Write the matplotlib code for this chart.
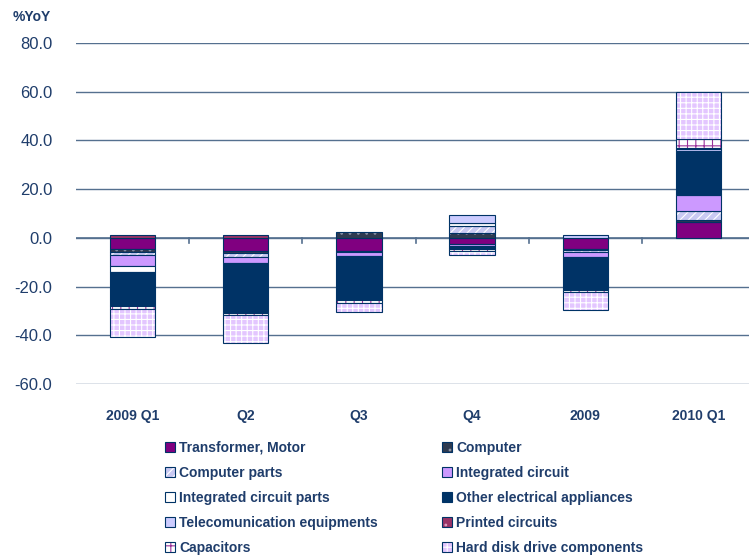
import matplotlib
matplotlib.use("Agg")
import matplotlib.pyplot as plt
from matplotlib.patches import Patch
import numpy as np

plt.rcParams['font.family'] = ['Liberation Sans', 'DejaVu Sans']
plt.rcParams['hatch.linewidth'] = 0.8

categories = ["2009 Q1", "Q2", "Q3", "Q4", "2009", "2010 Q1"]
series_names = [
    "Transformer, Motor", "Computer", "Computer parts", "Integrated circuit",
    "Integrated circuit parts", "Other electrical appliances",
    "Telecomunication equipments", "Printed circuits", "Capacitors",
    "Hard disk drive components",
]
transformer   = [-4.5, -5.6, -5.6, -2.5, -4.6, 6.4]
computer      = [-1.2, -0.7,  2.3,  2.0, -0.3, 1.1]
computer_parts= [-1.4, -1.6, -0.2,  2.7, -0.8, 3.7]
ic            = [-4.5, -2.5, -1.8, -0.7, -2.3, 6.6]
ic_parts      = [-2.5, -0.2, -0.1,  1.4, -0.3, 0.3]
other_elec    = [-13.4, -19.8, -17.6, -1.0, -12.6, 17.4]
telecom       = [-0.4, -0.3, -0.2,  3.1,  1.3, 1.1]
printed       = [ 1.3,  1.2, -0.2, -0.5, -0.4, 0.3]
capacitors    = [-1.4, -1.1, -1.1, -0.5, -1.1, 3.7]
hdd           = [-11.5, -11.2, -3.8, -2.0, -7.1, 19.3]

data = [transformer, computer, computer_parts, ic, ic_parts, other_elec,
        telecom, printed, capacitors, hdd]

faces = ["#800080", "#2E3A50", "#C9C9F2", "#CC99FF", "#FFFFFF", "#003366",
         "#CCCCFF", "#993366", "#FFFFFF", "#E3C6FF"]
hatches = [None, "..", "////", None, None, None, None, "..", "++", "+++"]
hatch_colors = [None, "#8A93A8", "#FFFFFF", None, None, None, None, "#D9A0C0",
                "#993399", "#FFFFFF"]

navy = "#1F3D6B"
grid_c = "#55708F"

fig = plt.figure(figsize=(7.49, 5.55), dpi=100)
ax = fig.add_axes([76/749, (555-384)/555, (755-76)/749, (384-43)/555])

x = np.arange(len(categories))
pos_base = np.zeros(len(categories))
neg_base = np.zeros(len(categories))
for vals, fc, h, hc in zip(data, faces, hatches, hatch_colors):
    v = np.array(vals, dtype=float)
    bottoms = np.where(v >= 0, pos_base, neg_base)
    bars = ax.bar(x, v, bottom=bottoms, width=0.4, color=fc,
                  edgecolor="#003366", linewidth=0.8, zorder=3)
    if h:
        for b in bars:
            b.set_hatch(h)
            b._hatch_color = matplotlib.colors.to_rgba(hc)
    pos_base = pos_base + np.where(v >= 0, v, 0)
    neg_base = neg_base + np.where(v < 0, v, 0)

ax.set_xlim(-0.5, 5.5)
ax.set_ylim(-60, 80)
ax.set_yticks(np.arange(-60, 81, 20))
ax.set_yticklabels([f"{t:.1f}" for t in np.arange(-60, 81, 20)],
                   fontsize=12, color=navy)
ax.yaxis.grid(True, color=grid_c, linewidth=1.0, zorder=0)
ax.set_axisbelow(True)
for s in ax.spines.values():
    s.set_visible(False)
ax.tick_params(axis='y', length=0, pad=17)
ax.set_xticks([])
# zero axis line with tick marks between categories
ax.axhline(0, color=grid_c, linewidth=1.2, zorder=2)
for b in np.arange(0.5, 5.5, 1.0):
    ax.plot([b, b], [0, -2.2], color=grid_c, linewidth=1.2, zorder=2,
            clip_on=False)
for xi, c in zip(x, categories):
    ax.text(xi, -73.2, c, ha='center', va='center', fontsize=10,
            fontweight='bold', color=navy)

fig.text(13/749, 1 - 17/555, "%YoY", ha='left', va='center', fontsize=10,
         fontweight='bold', color=navy)

# Legend (row-wise order in two columns)
handles = []
for fc, h, hc, name in zip(faces, hatches, hatch_colors, series_names):
    p = Patch(facecolor=fc, edgecolor="#003366", linewidth=0.8, label=name)
    if h:
        p.set_hatch(h)
        p._hatch_color = matplotlib.colors.to_rgba(hc)
    handles.append(p)
order = [0, 2, 4, 6, 8, 1, 3, 5, 7, 9]
hs = [handles[i] for i in order]
fig.legend(handles=hs, labels=[series_names[i] for i in order], ncol=2,
           loc='upper left', bbox_to_anchor=(159/749, 1 - 435/555),
           frameon=False, prop={'weight': 'bold', 'size': 10},
           handlelength=0.75, handleheight=0.75, handletextpad=0.3,
           labelspacing=0.8, columnspacing=4.6, labelcolor=navy,
           borderaxespad=0)

fig.savefig("out.png", dpi=100)
